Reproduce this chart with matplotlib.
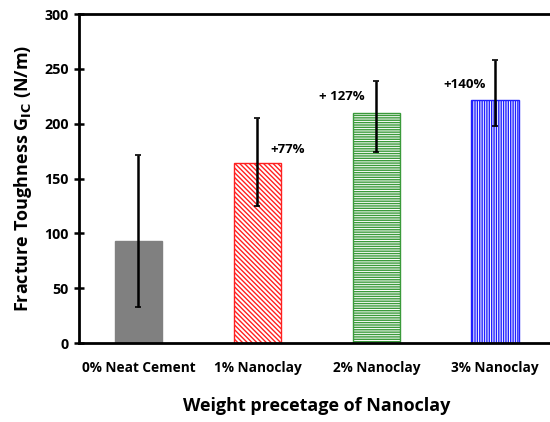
import matplotlib
matplotlib.use("Agg")
import matplotlib.pyplot as plt
import numpy as np

# data
categories = ["0% Neat Cement", "1% Nanoclay", "2% Nanoclay", "3% Nanoclay"]
toughness = [93, 164, 210, 222]
err_low = [60, 39, 36, 24]
err_high = [78, 41, 29, 36]
gain_labels = ["", "+77%", "+ 127%", "+140%"]
gain_x = [None, 1.11, 1.52, 2.56]
gain_y = [None, 176, 225, 236]

face_colors = ["#808080", "white", "white", "white"]
edge_colors = ["#808080", "#ff2020", "#3a9a3a", "#2020ff"]
hatches = [None, "\\\\\\\\\\\\\\", "-------", "|||||||"]

plt.rcParams["font.family"] = ["Open Sans", "DejaVu Sans"]
plt.rcParams["hatch.linewidth"] = 1.0

fig = plt.figure(figsize=(5.5, 4.22), dpi=100)
ax = fig.add_axes([0.1436, 0.1872, 0.865, 0.7796])

x = np.arange(len(categories))
for i in range(len(categories)):
    ax.bar(x[i], toughness[i], width=0.4, color=face_colors[i],
           edgecolor=edge_colors[i], hatch=hatches[i], linewidth=1.0, zorder=2)

ax.errorbar(x, toughness, yerr=[err_low, err_high], fmt="none", ecolor="black",
            elinewidth=1.8, capsize=2.5, capthick=1.2, zorder=3)

for i in range(len(categories)):
    if gain_labels[i]:
        ax.text(gain_x[i], gain_y[i], gain_labels[i], fontsize=9.5,
                fontweight="bold", ha="left", va="center")

ax.set_xlim(-0.5, 3.5)
ax.set_ylim(0, 300)
ax.set_yticks(np.arange(0, 301, 50))
ax.set_xticks(x)
ax.set_xticklabels(categories, fontsize=9.8, fontweight="bold")
for lab in ax.get_yticklabels():
    lab.set_fontweight("bold")
    lab.set_fontsize(10.3)

ax.tick_params(axis="y", direction="inout", length=7, width=1.8, pad=4)
ax.tick_params(axis="x", length=0, pad=13)

ax.spines["right"].set_visible(False)
for s in ["left", "bottom", "top"]:
    ax.spines[s].set_linewidth(2)

ax.set_ylabel(r"Fracture Toughness G$_{\mathbf{IC}}$ (N/m)", fontsize=13,
              fontweight="bold", labelpad=7)
ax.set_xlabel("Weight precetage of Nanoclay", fontsize=13, fontweight="bold",
              labelpad=16)

fig.savefig("out.png", dpi=100)
